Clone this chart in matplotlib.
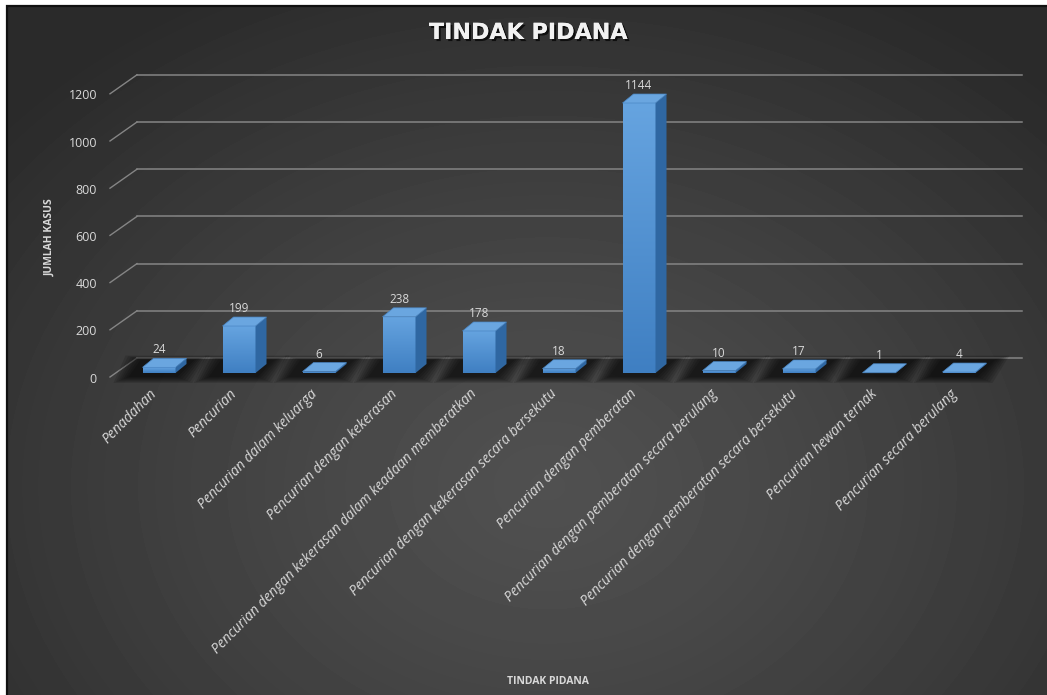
import numpy as np
import matplotlib.pyplot as plt
from matplotlib.patches import Polygon, Rectangle
from matplotlib.colors import LinearSegmentedColormap
import matplotlib.patheffects as pe

plt.rcParams['font.family'] = ['Open Sans', 'DejaVu Sans']

# data
categories = [
    "Penadahan",
    "Pencurian",
    "Pencurian dalam keluarga",
    "Pencurian dengan kekerasan",
    "Pencurian dengan kekerasan dalam keadaan memberatkan",
    "Pencurian dengan kekerasan secara bersekutu",
    "Pencurian dengan pemberatan",
    "Pencurian dengan pemberatan secara berulang",
    "Pencurian dengan pemberatan secara bersekutu",
    "Pencurian hewan ternak",
    "Pencurian secara berulang",
]
jumlah = [24, 199, 6, 238, 178, 18, 1144, 10, 17, 1, 4]
y_ticks = [0, 200, 400, 600, 800, 1000, 1200]

# layout in pixels
W, H = 1047, 695
X0, STEP = 159, 80          # first column centre, column spacing
BASE, PPU = 373, 0.236      # baseline row, pixels per case

def ux(px):
    return px / STEP

def uy(px):
    return px / PPU

def col_x(px):
    return (px - X0) / STEP

def row_y(py):
    return (BASE - py) / PPU

txt = '#d9d9d9'

fig = plt.figure(figsize=(W / 100, H / 100), dpi=100)
fig.patch.set_facecolor('white')

# dark panel with a soft radial glow
left, top = 7, 6
bg = fig.add_axes([left / W, 0, 1 - left / W, 1 - top / H])
bw, bh = W - left, H - top
yy, xx = np.mgrid[0:bh, 0:bw]
r = np.sqrt(((xx - 540) / 720) ** 2 + ((yy - 480) / 560) ** 2)
shade = 0x50 - (0x50 - 0x2a) * np.clip(r, 0, 1) ** 1.3
bg.imshow(shade, cmap='gray', vmin=0, vmax=255, aspect='auto', interpolation='bilinear')
bg.set_axis_off()

ax = fig.add_axes([0, 0, 1, 1])
ax.patch.set_alpha(0)
ax.set_axis_off()

# back wall grid, diagonal ticks and value labels
wall_dy = uy(15)
for t in y_ticks:
    ax.plot([col_x(137), col_x(1022)], [t + wall_dy] * 2, color='#858585', lw=1.1, zorder=1)
    ax.plot([col_x(110), col_x(137)], [t - uy(4), t + wall_dy], color='#858585', lw=1.0, zorder=1)
    ax.text(col_x(97), t - uy(6), str(t), ha='right', va='center', fontsize=9, color=txt)

xs = np.arange(len(jumlah))
w = ux(33)
ddx, ddy = ux(11), uy(9)

# soft floor shadows under each column
for i in xs:
    for k in range(7):
        e = k * 2.5
        poly = [
            (i - w / 2 - ux(14 + e), -uy(4 + e * 0.4)),
            (i + w / 2 + ux(2 + e), -uy(4 + e * 0.4)),
            (i + w / 2 + ddx + ux(8 + e), uy(13 + e * 0.3)),
            (i - w / 2 - ux(2 + e), uy(13 + e * 0.3)),
        ]
        ax.add_patch(Polygon(poly, closed=True, facecolor='black', edgecolor='none',
                             alpha=0.13, zorder=2))

# columns: front face with gradient, side and top faces
front_cmap = LinearSegmentedColormap.from_list('front', ['#3f7fc2', '#66a4e0'])
grad = np.linspace(0, 1, 256).reshape(-1, 1)
bars = ax.bar(xs, jumlah, width=w, color='#5b9bd5', linewidth=0, zorder=4)
for i, (rect, v) in enumerate(zip(bars, jumlah)):
    x0, x1 = i - w / 2, i + w / 2
    im = ax.imshow(grad, extent=[x0, x1, 0, v], origin='lower', aspect='auto',
                   cmap=front_cmap, zorder=4.1, interpolation='bilinear')
    im.set_clip_path(rect)
    side = [(x1, 0), (x1 + ddx, ddy), (x1 + ddx, v + ddy), (x1, v)]
    ax.add_patch(Polygon(side, closed=True, facecolor='#2f67a2', edgecolor='none', zorder=4.2))
    topf = [(x0, v), (x1, v), (x1 + ddx, v + ddy), (x0 + ddx, v + ddy)]
    ax.add_patch(Polygon(topf, closed=True, facecolor='#6aa6e0', edgecolor='#4a86c4',
                         lw=0.5, zorder=4.3))
    ax.text(i, v + ddy + uy(2), str(v), ha='center', va='bottom', fontsize=8.5,
            color=txt, zorder=5)

ax.set_xlim(col_x(0), col_x(W))
ax.set_ylim(row_y(H), row_y(0))

# category labels
for i, name in enumerate(categories):
    ax.text(i - ux(4), row_y(392), name, rotation=45, rotation_mode='anchor',
            ha='right', va='center', fontsize=10, color=txt, style='italic')

# titles
fig.text(528 / W, 1 - 33 / H, 'TINDAK PIDANA', ha='center', va='center', fontsize=16,
         fontweight='bold', color='#f2f2f2', family='DejaVu Sans',
         path_effects=[pe.withSimplePatchShadow(offset=(1.5, -1.5), shadow_rgbFace='black', alpha=0.7),
                       pe.Normal()])
fig.text(548 / W, 1 - 682 / H, 'TINDAK PIDANA', ha='center', va='center', fontsize=7.5,
         fontweight='bold', color=txt)
fig.text(50 / W, 1 - 237 / H, 'JUMLAH KASUS', ha='center', va='center', fontsize=7.5,
         fontweight='bold', color=txt, rotation=90)

# panel frame
fig.add_artist(Rectangle((left / W, -0.01), 1.02, 1 - top / H + 0.01,
                         transform=fig.transFigure, fill=False, edgecolor='#111111', lw=1.6))

fig.savefig('out.png', dpi=100)
